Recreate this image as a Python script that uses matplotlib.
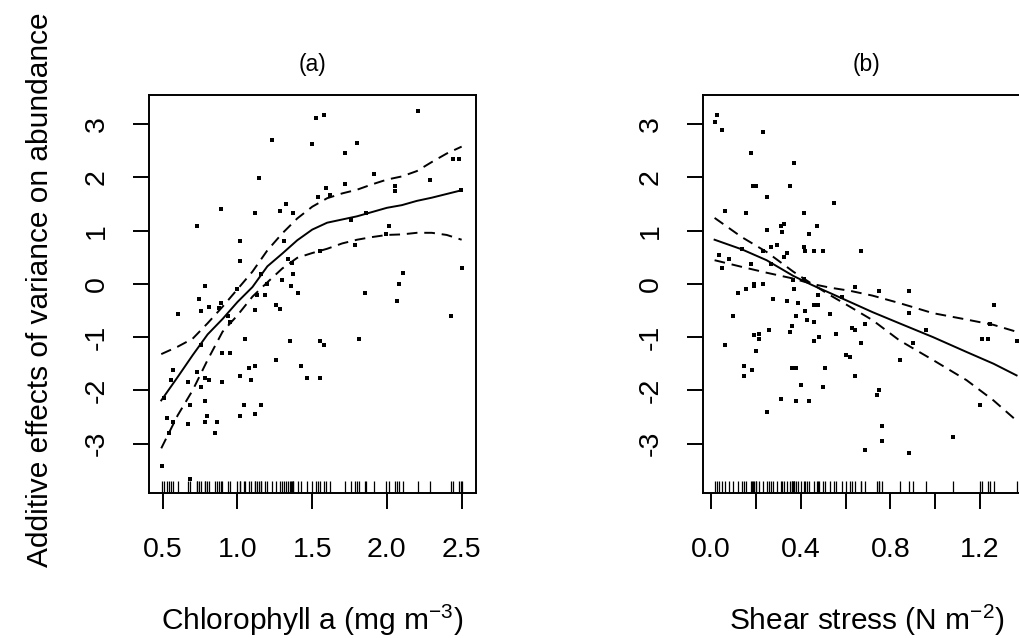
import matplotlib
matplotlib.use("Agg")
import matplotlib.pyplot as plt
import numpy as np

plt.rcParams['font.family'] = ['Liberation Sans', 'DejaVu Sans']
plt.rcParams['axes.unicode_minus'] = False
plt.rcParams['mathtext.fontset'] = 'custom'
plt.rcParams['mathtext.rm'] = 'Liberation Sans'
plt.rcParams['mathtext.it'] = 'Liberation Sans:italic'
plt.rcParams['mathtext.bf'] = 'Liberation Sans:bold'

# ---------------- Panel (a): Chlorophyll a ----------------
chl_x = [1.523, 1.577, 2.206, 1.231, 1.80, 1.497, 1.717, 2.44, 2.48, 1.144, 1.913, 2.286,
         1.717, 1.592, 2.054, 2.054, 2.495, 1.539, 1.619, 0.888, 0.729, 1.323, 1.285, 1.372,
         1.118, 1.858, 1.758, 2.012, 1.992, 1.784, 1.552, 1.015, 1.311, 1.015, 1.336, 1.365,
         1.37, 1.158, 1.299, 1.196, 2.50, 2.107, 2.08, 1.358, 0.783, 1.0, 1.405, 1.853, 2.065,
         1.129, 1.182, 0.741, 0.888, 0.808, 0.875, 0.754, 0.60, 1.256, 1.285, 1.115, 2.426,
         0.935, 0.948,
         1.048, 1.349, 1.552, 1.577, 1.811, 0.754, 0.894, 0.948, 1.256, 1.075, 1.118, 1.423,
         0.567, 0.727, 1.017, 1.091, 1.463, 1.552, 0.554, 0.667, 0.781, 0.808, 0.894, 0.754,
         0.511, 0.781, 0.681, 1.044, 1.155, 1.017, 1.118, 0.796, 0.529, 0.567, 0.667, 0.781,
         0.861, 0.848, 0.54, 0.493, 0.681]
chl_res = [3.11, 3.17, 3.25, 2.70, 2.65, 2.62, 2.46, 2.35, 2.35, 1.99, 2.07, 1.955,
           1.88, 1.80, 1.84, 1.75, 1.77, 1.635, 1.67, 1.41, 1.09, 1.50, 1.37, 1.33,
           1.33, 1.33, 1.20, 1.09, 0.94, 0.73, 0.62, 0.81, 0.81, 0.43, 0.47, 0.39,
           0.19, 0.19, 0.075, 0.00, 0.30, 0.21, 0.00, -0.04, -0.04, -0.09, -0.17, -0.17, -0.32,
           -0.21, -0.21, -0.28, -0.36, -0.43, -0.45, -0.51, -0.56, -0.39, -0.47, -0.49, -0.60,
           -0.60, -0.72,
           -1.04, -1.08, -1.08, -1.15, -1.04, -1.15, -1.30, -1.30, -1.43, -1.58, -1.55, -1.55,
           -1.62, -1.66, -1.73, -1.81, -1.77, -1.77, -1.81, -1.85, -1.77, -1.81, -1.85, -1.94,
           -2.15, -2.20, -2.28, -2.28, -2.28, -2.49, -2.45, -2.49, -2.52, -2.60, -2.64, -2.60,
           -2.60, -2.81, -2.81, -3.42, -3.67]

chl_grid = [0.49, 0.6, 0.7, 0.8, 0.9, 1.0, 1.1, 1.2, 1.3, 1.4, 1.5, 1.6, 1.7, 1.8, 1.9,
            2.0, 2.1, 2.2, 2.3, 2.4, 2.5]
chl_fit = [-2.19, -1.75, -1.34, -0.95, -0.66, -0.34, -0.06, 0.33, 0.57, 0.82, 1.02, 1.15,
           1.21, 1.27, 1.35, 1.43, 1.48, 1.56, 1.62, 1.69, 1.76]
chl_upper = [-1.32, -1.18, -1.03, -0.74, -0.43, -0.10, 0.23, 0.63, 0.95, 1.23, 1.45, 1.61,
             1.70, 1.77, 1.87, 1.96, 2.02, 2.12, 2.29, 2.45, 2.58]
chl_lower = [-3.09, -2.47, -2.00, -1.43, -0.90, -0.59, -0.24, 0.03, 0.29, 0.49, 0.58, 0.66,
             0.76, 0.83, 0.88, 0.92, 0.93, 0.96, 0.96, 0.92, 0.83]

# ---------------- Panel (b): Shear stress ----------------
ss_x = [0.025, 0.016, 0.048, 0.23, 0.18, 0.37, 0.186, 0.20, 0.351, 0.248, 0.547, 0.061,
        0.155, 0.413, 0.311, 0.324, 0.471, 0.248, 0.315, 0.436, 0.293, 0.266, 0.413, 0.137,
        0.23, 0.337, 0.418, 0.459, 0.498, 0.668, 0.324, 0.034, 0.079, 0.048, 0.18, 0.266,
        0.366, 0.413, 0.19, 0.19, 0.23, 0.155, 0.369, 0.641, 0.119, 0.75, 0.882, 0.478,
        0.583, 0.275, 0.337, 0.387, 0.459, 0.478, 1.261, 0.882, 0.418, 0.529, 0.097, 0.378,
        0.427,
        1.243, 0.687, 0.629, 0.641, 0.958, 0.257, 0.351, 0.362, 0.19, 0.213, 0.213, 0.48,
        0.459, 0.459, 0.556, 1.207, 1.234, 1.363, 0.669, 0.90, 0.061, 0.199, 0.601, 0.619,
        0.842, 0.146, 0.181, 0.146, 0.36, 0.378, 0.507, 0.641, 0.40, 0.498, 0.748, 0.739,
        1.198, 0.311, 0.378, 0.436, 0.248, 0.761, 0.761, 1.078, 0.687, 0.882]
ss_res = [3.17, 3.04, 2.90, 2.86, 2.46, 2.27, 1.84, 1.84, 1.84, 1.64, 1.52, 1.37,
          1.33, 1.33, 1.09, 1.13, 1.09, 1.02, 0.98, 0.94, 0.73, 0.70, 0.70, 0.66,
          0.62, 0.58, 0.62, 0.62, 0.62, 0.62, 0.51, 0.545, 0.47, 0.30, 0.38, 0.38,
          0.075, 0.09, 0.0, -0.04, 0.0, -0.09, -0.09, -0.06, -0.17, -0.13, -0.13, -0.21,
          -0.24, -0.28, -0.32, -0.36, -0.39, -0.39, -0.39, -0.55, -0.51, -0.56, -0.60, -0.60,
          -0.67,
          -0.75, -0.75, -0.83, -0.86, -0.86, -0.86, -0.90, -0.79, -0.96, -0.94, -1.03, -1.00,
          -1.07, -0.72, -0.94, -1.03, -1.03, -1.07, -1.11, -1.11, -1.15, -1.26, -1.33, -1.37,
          -1.43, -1.54, -1.62, -1.73, -1.58, -1.58, -1.58, -1.73, -1.90, -1.94, -1.99, -2.09,
          -2.27, -2.16, -2.20, -2.20, -2.41, -2.67, -2.95, -2.88, -3.12, -3.18]

ss_grid = [0.016, 0.137, 0.248, 0.367, 0.45, 0.53, 0.62, 0.72, 0.84, 0.99, 1.14, 1.26, 1.363]
ss_fit = [0.83, 0.65, 0.445, 0.15, -0.02, -0.17, -0.34, -0.53, -0.74, -1.00, -1.28, -1.50, -1.72]
ss_upper = [1.24, 0.88, 0.60, 0.23, 0.00, -0.07, -0.13, -0.22, -0.36, -0.55, -0.67, -0.77, -0.90]
ss_lower = [0.445, 0.32, 0.21, 0.10, 0.00, -0.21, -0.43, -0.68, -1.06, -1.43, -1.81, -2.19, -2.57]

W, H = 1019, 638
fig = plt.figure(figsize=(W / 100, H / 100), dpi=100)

ax_l, ax_r = 149, 476
bx_l, bx_r = 703, 1030
ax_top, ax_bot = 95, 493

ax_a = fig.add_axes([ax_l / W, (H - ax_bot) / H, (ax_r - ax_l) / W, (ax_bot - ax_top) / H])
ax_b = fig.add_axes([bx_l / W, (H - ax_bot) / H, (bx_r - bx_l) / W, (ax_bot - ax_top) / H])

lw = 1.4
line_lw = 1.4
dash = (0, (5.5, 3.5))


def style(ax, xlim, xticks, xlabels):
    ax.set_xlim(*xlim)
    ax.set_ylim(-3.93, 3.55)
    ax.set_xticks(xticks)
    ax.set_xticklabels(xlabels)
    ax.set_yticks([-3, -2, -1, 0, 1, 2, 3])
    ax.set_yticklabels(['-3', '-2', '-1', '0', '1', '2', '3'], rotation=90, va='center')
    for s in ax.spines.values():
        s.set_linewidth(lw)
        s.set_color('black')
    ax.tick_params(axis='both', direction='out', length=11.5, width=lw, labelsize=20.5,
                   colors='black')
    ax.tick_params(axis='x', pad=20)
    ax.tick_params(axis='y', pad=17)


# panel a
ax_a.plot(chl_x, chl_res, linestyle='none', marker='s', markersize=2.5, color='black',
          markeredgewidth=0)
ax_a.plot(chl_grid, chl_fit, color='black', lw=line_lw)
ax_a.plot(chl_grid, chl_upper, color='black', lw=line_lw, linestyle=dash)
ax_a.plot(chl_grid, chl_lower, color='black', lw=line_lw, linestyle=dash)
ax_a.vlines(sorted(set(chl_x)), -3.93, -3.93 + 0.03 * 7.48, color='black', lw=0.9)
style(ax_a, (0.408, 2.596), [0.5, 1.0, 1.5, 2.0, 2.5], ['0.5', '1.0', '1.5', '2.0', '2.5'])

# panel b
ax_b.plot(ss_x, ss_res, linestyle='none', marker='s', markersize=2.5, color='black',
          markeredgewidth=0)
ax_b.plot(ss_grid, ss_fit, color='black', lw=line_lw)
ax_b.plot(ss_grid, ss_upper, color='black', lw=line_lw, linestyle=dash)
ax_b.plot(ss_grid, ss_lower, color='black', lw=line_lw, linestyle=dash)
ax_b.vlines(sorted(set(ss_x)), -3.93, -3.93 + 0.03 * 7.48, color='black', lw=0.9)
style(ax_b, (-0.0357, 1.4228), [0.0, 0.2, 0.4, 0.6, 0.8, 1.0, 1.2, 1.4],
      ['0.0', '', '0.4', '', '0.8', '', '1.2', ''])

# titles
fig.text((ax_l + ax_r) / 2 / W, 1 - 64 / H, '(a)', ha='center', va='center', fontsize=16.5)
fig.text((bx_l + bx_r) / 2 / W, 1 - 64 / H, '(b)', ha='center', va='center', fontsize=16.5)

# axis labels
fig.text((ax_l + ax_r) / 2 / W, 1 - 630 / H, r'Chlorophyll a (mg m$^{-3}$)', ha='center',
         va='baseline', fontsize=21.5)
fig.text((bx_l + bx_r) / 2 / W, 1 - 630 / H, r'Shear stress (N m$^{-2}$)', ha='center',
         va='baseline', fontsize=21.5)
fig.text(40 / W, 1 - 290 / H, 'Additive effects of variance on abundance', rotation=90,
         ha='center', va='center', fontsize=21.5)

fig.savefig('out.png', dpi=100)
